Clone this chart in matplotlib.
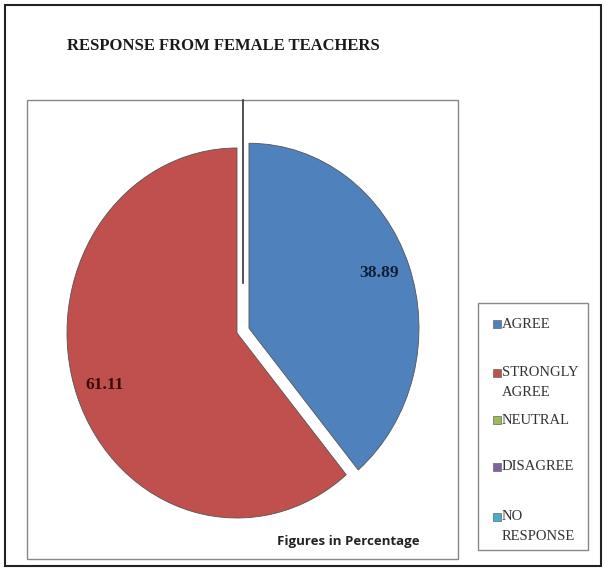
import matplotlib
matplotlib.use("Agg")
import matplotlib.pyplot as plt
from matplotlib.patches import Rectangle
from matplotlib.lines import Line2D

categories = ["AGREE", "STRONGLY\nAGREE", "NEUTRAL", "DISAGREE", "NO\nRESPONSE"]
values = [38.89, 61.11, 0, 0, 0]
colors = ["#4F81BD", "#C0504D", "#9BBB59", "#8064A2", "#4BACC6"]
title = "RESPONSE FROM FEMALE TEACHERS"
note = "Figures in Percentage"

W, H = 604, 569
fig = plt.figure(figsize=(W / 100, H / 100), dpi=100)

def fx(px):
    return px / W

def fy(py):
    return 1 - py / H

# outer border and inner plot-area box
fig.add_artist(Rectangle((fx(5), fy(566)), fx(596), 561 / H, transform=fig.transFigure,
                         fill=False, edgecolor="#222222", linewidth=1.5))
fig.add_artist(Rectangle((fx(27), fy(559)), fx(431), 459 / H, transform=fig.transFigure,
                         fill=False, edgecolor="#888888", linewidth=1.0))
# the odd vertical leader line
fig.add_artist(Line2D([fx(243), fx(243)], [fy(100), fy(283)], transform=fig.transFigure,
                      color="#333333", linewidth=1.2))

fig.text(fx(67), fy(46), title, fontsize=12, fontweight="bold",
         family="Liberation Serif", va="center", ha="left", color="#1a1a1a")

# pie axes: centre (237, 333), radii ~170 x 185 px (slightly squashed)
cx, cy, rx, ry, half = 237, 333, 170, 185, 200
ax = fig.add_axes([fx(cx - half), fy(cy + half), 2 * half / W, 2 * half / H])
nz = [i for i, v in enumerate(values) if v > 0]
wedges, _ = ax.pie([values[i] for i in nz], colors=[colors[i] for i in nz],
                   startangle=90, counterclock=False, explode=[0.075, 0],
                   wedgeprops=dict(linewidth=0.6, edgecolor="#555555"))
ax.set_aspect("auto")
ax.set_xlim(-half / rx, half / rx)
ax.set_ylim(-half / ry, half / ry)
ax.axis("off")

fig.text(fx(379), fy(273), f"{values[0]:.2f}", fontsize=12.5, fontweight="bold",
         family="Liberation Serif", ha="center", va="center", color="#10203a")
fig.text(fx(105), fy(385), f"{values[1]:.2f}", fontsize=12.5, fontweight="bold",
         family="Liberation Serif", ha="center", va="center", color="#3a0a0a")

fig.text(fx(348), fy(542), note, fontsize=9.5, fontweight="bold",
         family="Open Sans", ha="center", va="center", color="#222222")

# legend drawn by hand (Excel spaces entries unevenly)
fig.add_artist(Rectangle((fx(478), fy(550)), fx(110), 247 / H, transform=fig.transFigure,
                         fill=False, edgecolor="#888888", linewidth=1.0))
row_y = [324, 373, 420, 467, 517]
for label, col, y0 in zip(categories, colors, row_y):
    fig.add_artist(Rectangle((fx(493), fy(y0 + 4)), fx(8), 8 / H, transform=fig.transFigure,
                             facecolor=col, edgecolor="#666666", linewidth=0.5))
    for k, line in enumerate(label.split("\n")):
        fig.text(fx(502), fy(y0 + 19 * k), line, fontsize=10.5, family="Liberation Serif",
                 ha="left", va="center", color="#333333")

fig.savefig("out.png", dpi=100)
